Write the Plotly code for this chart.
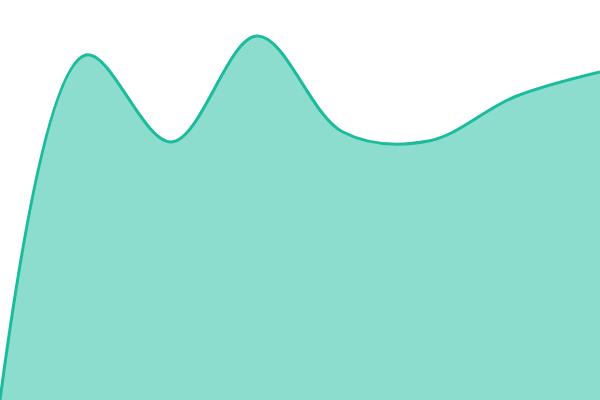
import plotly.graph_objects as go

# equally spaced samples
x_values = [0, 1, 2, 3, 4, 5, 6, 7]
y_values = [0, 345, 258, 364, 268, 259, 303, 328]

LINE_COLOR = "#1abc9c"
FILL_COLOR = "rgba(26, 188, 156, 0.5)"

fig = go.Figure()
fig.add_trace(
    go.Scatter(
        x=x_values,
        y=y_values,
        mode="lines",
        line={"color": LINE_COLOR, "width": 3, "shape": "spline", "smoothing": 1.0},
        fill="tozeroy",
        fillcolor=FILL_COLOR,
        hoverinfo="skip",
        showlegend=False,
    )
)

fig.update_xaxes(visible=False, range=[0, 7], fixedrange=True)
fig.update_yaxes(visible=False, range=[0, 400], fixedrange=True)
fig.update_layout(
    width=600,
    height=400,
    margin={"l": 0, "r": 0, "t": 0, "b": 0},
    paper_bgcolor="white",
    plot_bgcolor="white",
)

# drop the default body margin so the chart sits flush in the window
fig.write_html(
    "out.html",
    config={"displayModeBar": False},
    post_script="document.body.style.margin = '0'; document.body.style.overflow = 'hidden';",
)
